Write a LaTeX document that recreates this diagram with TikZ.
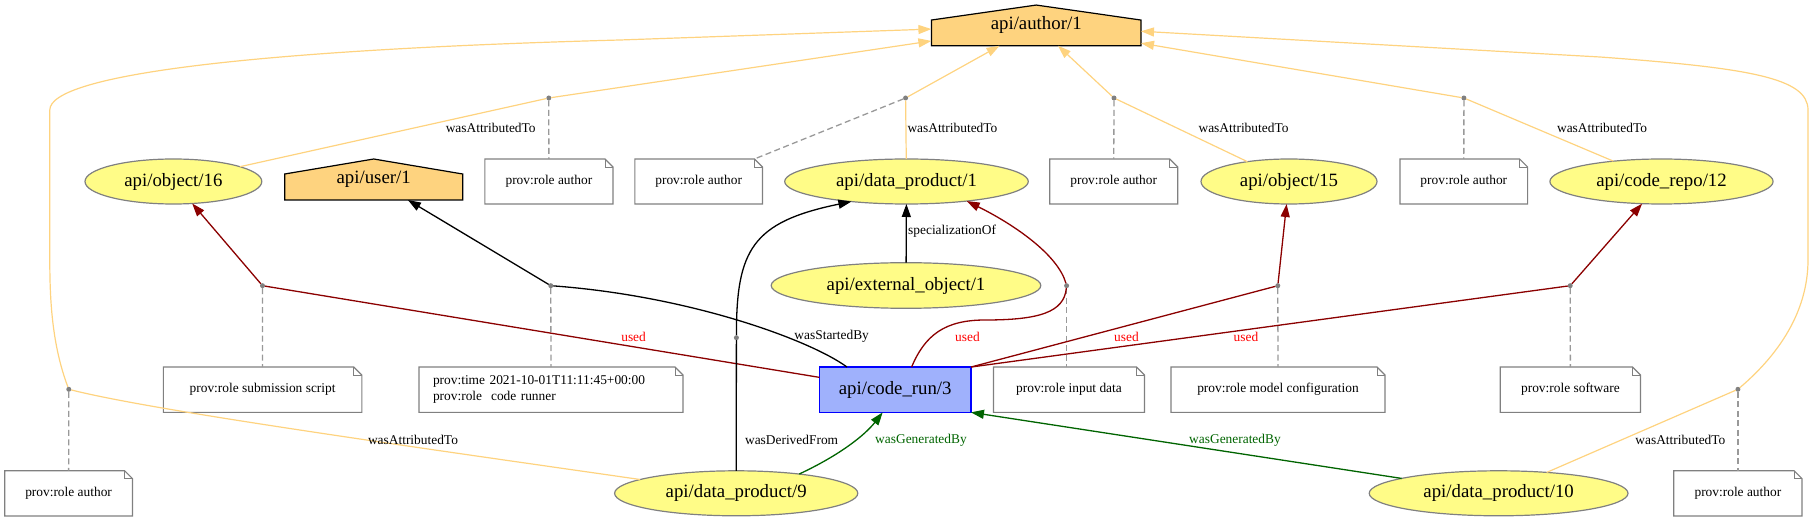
\documentclass[tikz,border=0pt]{standalone}
\usepackage{fontspec}
\setmainfont{Liberation Serif}
\usetikzlibrary{arrows.meta,shapes.geometric,backgrounds}
\definecolor{agentc}{HTML}{FED37F}
\definecolor{entc}{HTML}{FFFC87}
\definecolor{actc}{HTML}{9FB1FC}
\definecolor{dkred}{HTML}{8B0000}
\definecolor{dgreen}{HTML}{006400}
\definecolor{gryc}{HTML}{808080}
\definecolor{dashc}{HTML}{999999}
\newcommand\nodefont{\fontsize{18.8pt}{22pt}\selectfont}
\newcommand\notefont{\fontsize{13.4pt}{16pt}\selectfont}
\tikzset{
 ent/.style={ellipse,draw=gryc,fill=entc,line width=1.2pt,inner sep=0pt,outer sep=0pt,font=\nodefont,minimum height=45pt},
 agentbox/.style={rectangle,inner sep=0pt,outer sep=0pt,font=\nodefont},
 act/.style={rectangle,draw=blue,fill=actc,line width=1.2pt,inner sep=0pt,outer sep=0pt,font=\nodefont},
 notebox/.style={rectangle,inner sep=0pt,outer sep=0pt,font=\notefont,minimum height=45.3pt},
 pdot/.style={circle,fill=gryc,inner sep=0pt,outer sep=0pt,minimum size=5pt},
 elabel/.style={inner sep=0pt,font=\notefont},
 attr/.style={draw=agentc,line width=1.2pt},
 usededge/.style={draw=dkred,line width=1.3pt},
 genedge/.style={draw=dgreen,line width=1.3pt},
 blkedge/.style={draw=black,line width=1.3pt},
 rolelink/.style={draw=dashc,dash pattern=on 6pt off 3.5pt,line width=1.3pt},
 arrowend/.style={-{Triangle[length=13pt,width=9pt]}},
}
\begin{document}
\begin{tikzpicture}[x=1pt,y=-1pt]
\useasboundingbox (0,0) rectangle (1813,521);
% agents
\node[agentbox,minimum width=209.6pt,minimum height=40.7pt] (author) at (1036.2,25.4) {api/author/1};
\node[agentbox,minimum width=178pt,minimum height=41pt] (user) at (373.7,179.5) {api/user/1};
% entities
\node[ent,minimum width=176.8pt] (obj16) at (173.4,181.5) {\makebox[0pt]{api/object/16}};
\node[ent,minimum width=243.6pt] (dp1) at (906.5,181.5) {\makebox[0pt]{api/data\_product/1}};
\node[ent,minimum width=176pt] (obj15) at (1289,181.5) {\makebox[0pt]{api/object/15}};
\node[ent,minimum width=223.2pt] (repo12) at (1661.5,181.5) {\makebox[0pt]{api/code\_repo/12}};
\node[ent,minimum width=269.6pt,minimum height=45.6pt] (ext1) at (906,285.5) {\makebox[0pt]{api/external\_object/1}};
\node[ent,minimum width=243.2pt] (dp9) at (736.2,493.3) {\makebox[0pt]{api/data\_product/9}};
\node[ent,minimum width=258.8pt] (dp10) at (1498.6,493.3) {\makebox[0pt]{api/data\_product/10}};
% activity
\node[act,minimum width=151.5pt,minimum height=45.3pt] (run3) at (895.2,389.7) {api/code\_run/3};
% notes
\node[notebox,minimum width=128.1pt,minimum height=45pt] (n1) at (548.9,181.5) {prov:role author};
\node[notebox,minimum width=127.7pt,minimum height=45pt] (n2) at (698.7,181.5) {prov:role author};
\node[notebox,minimum width=128.1pt,minimum height=45pt] (n3) at (1113.7,181.5) {prov:role author};
\node[notebox,minimum width=127.6pt,minimum height=45pt] (n4) at (1463.8,181.5) {prov:role author};
\node[notebox,minimum width=198.5pt] (n5) at (262.6,389.7) {prov:role submission script};
\node[notebox,minimum width=264pt,text width=236pt,align=left] (n6) at (551,389.7) {prov:time 2021-10-01T11:11:45+00:00\\prov:role~ code runner};
\node[notebox,minimum width=151pt] (n7) at (1069,389.7) {prov:role input data};
\node[notebox,minimum width=214pt] (n8) at (1278,389.7) {prov:role model configuration};
\node[notebox,minimum width=140.3pt] (n9) at (1570.4,389.7) {prov:role software};
\node[notebox,minimum width=127.8pt] (n10) at (68.6,493.3) {prov:role author};
\node[notebox,minimum width=128.2pt] (n11) at (1737.9,493.3) {prov:role author};
% backgrounds for agents and notes
\begin{scope}[on background layer]
\foreach \n in {author,user}{
 \filldraw[fill=agentc,draw=black,line width=1.2pt] (\n.south west) -- (\n.south east) -- ([yshift=-15pt]\n.north east) -- (\n.north) -- ([yshift=-15pt]\n.north west) -- cycle;}
\foreach \n in {n1,n2,n3,n4,n5,n6,n7,n8,n9,n10,n11}{
 \filldraw[fill=white,draw=gryc,line width=1.2pt] (\n.south west) -- (\n.south east) -- ([yshift=-8pt]\n.north east) -- ([xshift=-8pt]\n.north east) -- (\n.north west) -- cycle;
 \draw[gryc,line width=0.9pt] ([xshift=-8pt]\n.north east) -- ([xshift=-8pt,yshift=-8pt]\n.north east) -- ([yshift=-8pt]\n.north east);}
\end{scope}
% relation points
\node[pdot] (dA16) at (548.8,98) {};
\node[pdot] (dA1) at (905.6,98) {};
\node[pdot] (dA15) at (1114,98) {};
\node[pdot] (dA12) at (1463.9,98) {};
\node[pdot] (dU16) at (262.5,285.7) {};
\node[pdot] (dS) at (550.8,285.7) {};
\node[pdot] (dU1) at (1066.6,285.7) {};
\node[pdot] (dU15) at (1277.8,285.7) {};
\node[pdot] (dU12) at (1570.2,285.7) {};
\node[pdot] (dD) at (736.4,337.7) {};
\node[pdot] (dA9) at (68.8,389.3) {};
\node[pdot] (dA10) at (1737.9,389.3) {};
% role links
\draw[rolelink] (dA16) -- (n1);
\draw[rolelink] (dA1) -- (n2);
\draw[rolelink] (dA15) -- (n3);
\draw[rolelink] (dA12) -- (n4);
\draw[rolelink] (dU16) -- (n5);
\draw[rolelink] (dS) -- (n6);
\draw[rolelink] (dU1) -- (n7.north -| dU1);
\draw[rolelink] (dU15) -- (n8);
\draw[rolelink] (dU12) -- (n9);
\draw[rolelink] (dA9) -- (n10);
\draw[rolelink] (dA10) -- (n11);
% wasAttributedTo
\draw[attr] (obj16) -- (dA16);
\draw[attr,arrowend] (dA16) -- (author);
\draw[attr] (dp1) -- (dA1);
\draw[attr,arrowend] (dA1) -- (author);
\draw[attr] (obj15) -- (dA15);
\draw[attr,arrowend] (dA15) -- (author);
\draw[attr] (repo12) -- (dA12);
\draw[attr,arrowend] (dA12) -- (author);
\draw[attr] (dp9) .. controls (400,445) and (150,410) .. (dA9);
\draw[attr,arrowend] (dA9) .. controls (52,345) and (49.8,300) .. (49.8,260) -- (49.8,110) .. controls (49.8,75) and (250,50) .. (620,40) -- (author);
\draw[attr] (dp10) -- (dA10);
\draw[attr,arrowend] (dA10) .. controls (1790,345) and (1808,300) .. (1808,260) -- (1808,110) .. controls (1808,78) and (1750,68) .. (1600,57) -- (author);
% used
\draw[usededge] (run3) -- (dU16);
\draw[usededge,arrowend] (dU16) -- (obj16);
\draw[usededge] ([xshift=16.4pt]run3.north) .. controls (925,335) and (945,320) .. (985,320) .. controls (1040,320) and (1064,312) .. (dU1);
\draw[usededge,arrowend] (dU1) .. controls (1058,255) and (1015,225) .. (dp1.-18);
\draw[usededge] (run3.north east) -- (dU15);
\draw[usededge,arrowend] (dU15) -- (obj15);
\draw[usededge] (run3.north east) -- (dU12);
\draw[usededge,arrowend] (dU12) -- (repo12);
% wasStartedBy
\draw[blkedge] ([xshift=-48.2pt]run3.north) .. controls (810,340) and (690,296) .. (dS);
\draw[blkedge,arrowend] (dS) -- (user);
% wasDerivedFrom
\draw[blkedge] (dp9) -- (dD);
\draw[blkedge,arrowend] (dD) .. controls (736.4,250) and (752,222) .. (dp1.-160);
% specializationOf
\draw[blkedge,arrowend] (ext1) -- (dp1);
% wasGeneratedBy
\draw[genedge,arrowend] (dp9.17) .. controls (840,455) and (865,435) .. ([xshift=-12.5pt]run3.south);
\draw[genedge,arrowend] (dp10) -- (run3.south east);
% labels
\node[elabel] (l1) at (490.7,128.3) {wasAttributedTo};
\node[elabel,anchor=west] (l2) at (907.3,128.3) {wasAttributedTo};
\node[elabel] (l3) at (1243.5,128.3) {wasAttributedTo};
\node[elabel] (l4) at (1602,128.3) {wasAttributedTo};
\node[elabel] (l5) at (413,440) {wasAttributedTo};
\node[elabel] (l6) at (1680.4,440) {wasAttributedTo};
\node[elabel,text=red] (l7) at (633.6,336.7) {used};
\node[elabel,text=red] (l8) at (967.5,336.7) {used};
\node[elabel,text=red] (l9) at (1126.5,336.7) {used};
\node[elabel,text=red] (l10) at (1246,336.7) {used};
\node[elabel] (l11) at (831.7,336.7) {wasStartedBy};
\node[elabel] (l12) at (791.6,440) {wasDerivedFrom};
\node[elabel,text=dgreen] (l13) at (921,440) {wasGeneratedBy};
\node[elabel,text=dgreen] (l14) at (1235,440) {wasGeneratedBy};
\node[elabel,anchor=west] (l15) at (908,231.7) {specializationOf};
\end{tikzpicture}
\end{document}
